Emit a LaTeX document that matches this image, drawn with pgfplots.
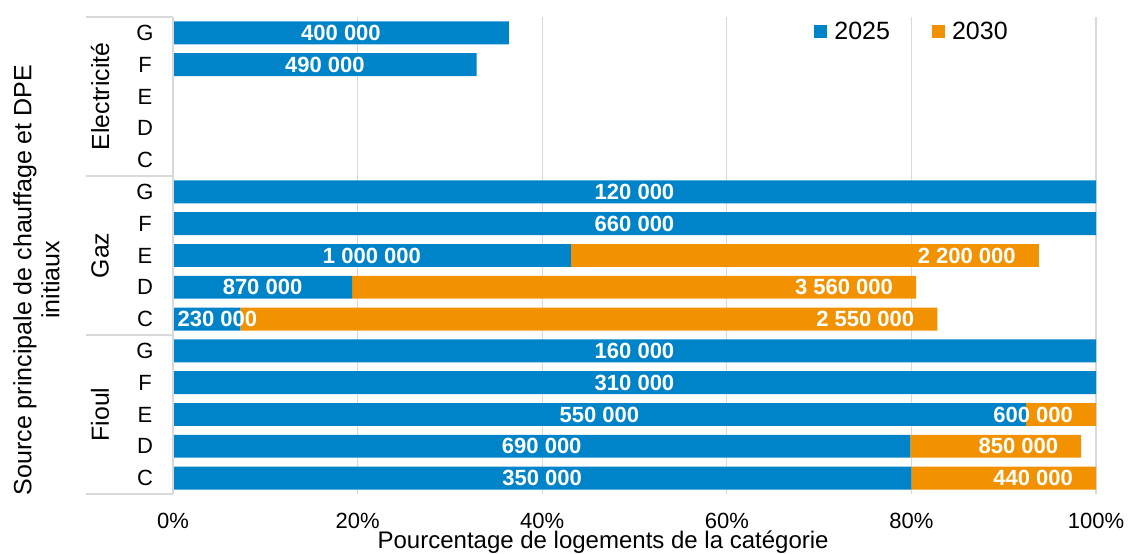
\documentclass[border=0pt]{standalone}
\usepackage{fontspec}
\setmainfont{Liberation Sans}
\usepackage{pgfplots}
\usepackage{pgfplotstable}
\pgfplotsset{compat=1.18}
\definecolor{c25}{RGB}{0,132,201}
\definecolor{c30}{RGB}{243,146,0}
\definecolor{gridc}{RGB}{217,217,217}
\begin{document}
\begin{tikzpicture}
\begin{axis}[
  name=ax,
  xbar stacked,
  scale only axis, width=461.5pt, height=238.5pt,
  xmin=0, xmax=100, ymin=-0.5, ymax=14.5,
  bar width=0.72,
  xtick={0,20,...,100},
  xticklabel={\pgfmathprintnumber{\tick}\%},
  ytick={0,...,14},
  yticklabels={C,D,E,F,G,C,D,E,F,G,C,D,E,F,G},
  xmajorgrids, grid style={draw=gridc, line width=0.6pt},
  axis line style={draw=none}, major tick length=0pt,
  tick label style={font=\fontsize{11}{13}\selectfont},
  /pgf/number format/assume math mode=true,
  xticklabel style={yshift=-6pt},
  yticklabel style={anchor=center, xshift=-14pt},
  clip=false,
  xlabel={Pourcentage de logements de la catégorie},
  xlabel style={at={(rel axis cs:0.466,-0.1153)}, anchor=base, font=\fontsize{12}{14}\selectfont},
  ylabel={Source principale de chauffage et DPE\\initiaux},
  ylabel style={align=center, at={(rel axis cs:-0.148,0.4486)}, anchor=center, font=\fontsize{12.5}{14}\selectfont},
  legend columns=2,
  legend image code/.code={\fill[#1] (0pt,-3.25pt) rectangle (6.5pt,3.25pt);},
  legend style={at={(rel axis cs:0.6945,0.9686)}, anchor=west, draw=none, fill=none,
    font=\fontsize{12.5}{15}\selectfont, inner sep=0pt,
    nodes={inner sep=0pt},
    /tikz/every odd column/.append style={column sep=3.5pt},
    /tikz/every even column/.append style={column sep=21pt}},
]
\addplot[fill=c25, draw=none, forget plot, point meta=explicit symbolic,
  visualization depends on={value \thisrow{d} \as \dd},
  nodes near coords,
  nodes near coords style={anchor=center, xshift={\dd*4.615pt}, text=white, font=\fontsize{11}{13}\selectfont\bfseries}]
  table[col sep=comma, y=y, x=a, meta=la]{
y,a,d,la
0,80.0,0,350 000
1,79.9,0,690 000
2,92.4,0,550 000
3,100,0,310 000
4,100,0,160 000
5,7.3,1.15,230 000
6,19.4,0,870 000
7,43.1,0,1 000 000
8,100,0,660 000
9,100,0,120 000
10,0,0,{}
11,0,0,{}
12,0,0,{}
13,32.9,0,490 000
14,36.4,0,400 000
};
\addplot[fill=c30, draw=none, forget plot, point meta=explicit symbolic,
  visualization depends on={value \thisrow{h} \as \hh},
  nodes near coords,
  nodes near coords style={anchor=east, xshift={\hh*4.615pt-8pt}, text=white, font=\fontsize{11}{13}\selectfont\bfseries}]
  table[col sep=comma, y=y, x=b, meta=lb]{
y,b,h,lb
0,20.0,10.0,440 000
1,18.5,9.25,850 000
2,7.6,3.8,600 000
3,0,0,{}
4,0,0,{}
5,75.5,37.75,2 550 000
6,61.1,30.55,3 560 000
7,50.7,25.35,2 200 000
8,0,0,{}
9,0,0,{}
10,0,0,{}
11,0,0,{}
12,0,0,{}
13,0,0,{}
14,0,0,{}
};
\addlegendimage{fill=c25, draw=none}
\addlegendentry{2025}
\addlegendimage{fill=c30, draw=none}
\addlegendentry{2030}
\coordinate (s0) at (axis cs:0,-0.5);
\coordinate (s1) at (axis cs:0,4.5);
\coordinate (s2) at (axis cs:0,9.5);
\coordinate (s3) at (axis cs:0,14.5);
\coordinate (gE) at (axis cs:0,12);
\coordinate (gG) at (axis cs:0,7);
\coordinate (gF) at (axis cs:0,2);
\end{axis}
\draw[gridc, line width=0.6pt] (s0) -- (s3);
\draw[gridc, line width=0.6pt] (s0) -- ([xshift=-43.5pt]s0);
\draw[gridc, line width=0.6pt] (s1) -- ([xshift=-43.5pt]s1);
\draw[gridc, line width=0.6pt] (s2) -- ([xshift=-43.5pt]s2);
\draw[gridc, line width=0.6pt] (s3) -- ([xshift=-43.5pt]s3);
\node[rotate=90, font=\fontsize{12.4}{14}\selectfont] at ([xshift=-36.5pt]gE) {Electricité};
\node[rotate=90, font=\fontsize{12.4}{14}\selectfont] at ([xshift=-36.5pt]gG) {Gaz};
\node[rotate=90, font=\fontsize{12.4}{14}\selectfont] at ([xshift=-36.5pt]gF) {Fioul};
\pgfresetboundingbox
\path[use as bounding box] ([xshift=-86.5pt,yshift=-30pt]ax.south west) rectangle ([xshift=16pt,yshift=8.5pt]ax.north east);
\end{tikzpicture}
\end{document}
